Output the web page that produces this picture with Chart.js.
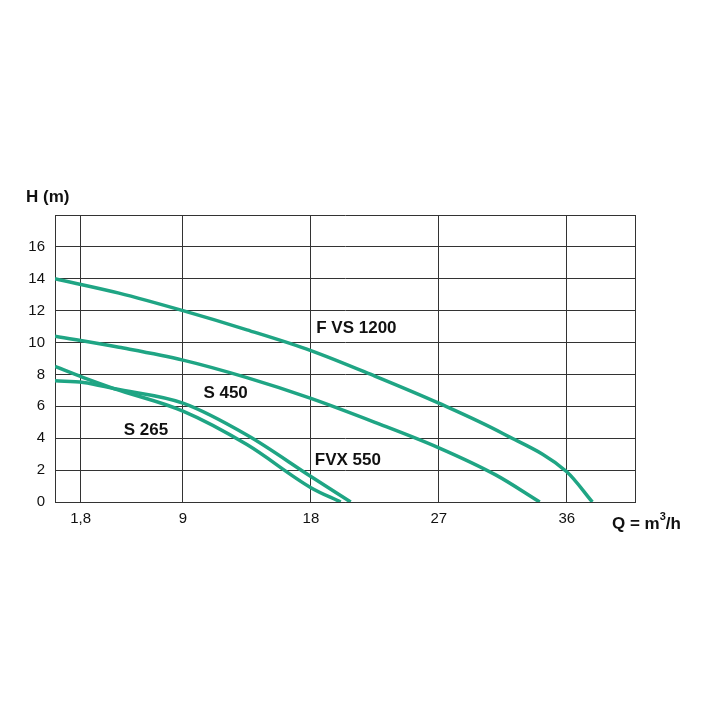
<!DOCTYPE html>
<html><head><meta charset="utf-8">
<script src="https://cdn.jsdelivr.net/npm/chart.js@4"></script>
<style>html,body{margin:0;padding:0;background:#fff}#w{width:720px;height:720px}</style>
</head><body><div id="w"><canvas id="c"></canvas></div>
<script>
const xTicks=[0,1.8,9,18,27,36,40.8];
const xLabels=['','1,8','9','18','27','36',''];
const fvs1200=[[0,14],[4.5,13.1],[9,12],[13.5,10.8],[18,9.5],[22.5,7.9],[27,6.2],[31.5,4.3],[36,1.9],[37.8,0]];
const s450=[[0,10.4],[4.5,9.7],[9,8.9],[13.5,7.8],[18,6.5],[22.5,5],[27,3.4],[31,1.7],[34.1,0]];
const s265=[[0,8.5],[2,7.8],[4.2,7.1],[9,5.7],[13.5,3.6],[18,0.9],[20.1,0]];
const fvx550=[[0,7.6],[2,7.5],[4.2,7.1],[9,6.2],[13.5,4.2],[18,1.6],[20.8,0]];
const labels=[['F VS 1200',21.2,10.9],['S 450',12,6.8],['S 265',6.4,4.5],['FVX 550',20.6,2.6]];
const col='#1fa584';
const mk=d=>({data:d.map(p=>({x:p[0],y:p[1]})),borderColor:col,borderWidth:3.5,pointRadius:0,showLine:true,cubicInterpolationMode:'monotone',fill:false});
const txt={id:'txt',afterDatasetsDraw(ch){const c=ch.ctx,x=ch.scales.x,y=ch.scales.y;c.save();c.fillStyle='#111';c.font='bold 17px "Liberation Sans"';c.textAlign='center';c.textBaseline='middle';
labels.forEach(l=>c.fillText(l[0],x.getPixelForValue(l[1]),y.getPixelForValue(l[2])));
c.textAlign='left';c.fillText('H (m)',26,197);
c.font='bold 17px "Liberation Sans"';c.fillText('Q = m',612,524);let w=c.measureText('Q = m').width;c.font='bold 11px "Liberation Sans"';c.fillText('3',612+w,517);let w2=c.measureText('3').width;c.font='bold 17px "Liberation Sans"';c.fillText('/h',612+w+w2,524);c.restore();}};
new Chart(document.getElementById('c'),{type:'scatter',data:{datasets:[mk(fvs1200),mk(s450),mk(s265),mk(fvx550)]},
options:{responsive:true,maintainAspectRatio:false,animation:false,layout:{padding:{top:215,right:85,left:0,bottom:0}},
plugins:{legend:{display:false},tooltip:{enabled:false}},
scales:{x:{type:'linear',min:0,max:40.8,afterBuildTicks:a=>{a.ticks=xTicks.map(v=>({value:v}))},afterFit:a=>{a.height=218},
ticks:{autoSkip:false,maxRotation:0,color:'#111',font:{size:15,family:'Liberation Sans'},padding:8,callback:(v,i)=>xLabels[i]},
grid:{color:'#333',lineWidth:1,drawTicks:false},border:{color:'#333'}},
y:{min:0,max:18,afterBuildTicks:a=>{a.ticks=[0,2,4,6,8,10,12,14,16,18].map(v=>({value:v}))},afterFit:a=>{a.width=55},
ticks:{color:'#111',font:{size:15,family:'Liberation Sans'},padding:10,callback:v=>v==18?'':String(v)},
grid:{color:'#333',lineWidth:1,drawTicks:false},border:{color:'#333'}}}},plugins:[txt]});
</script></body></html>
